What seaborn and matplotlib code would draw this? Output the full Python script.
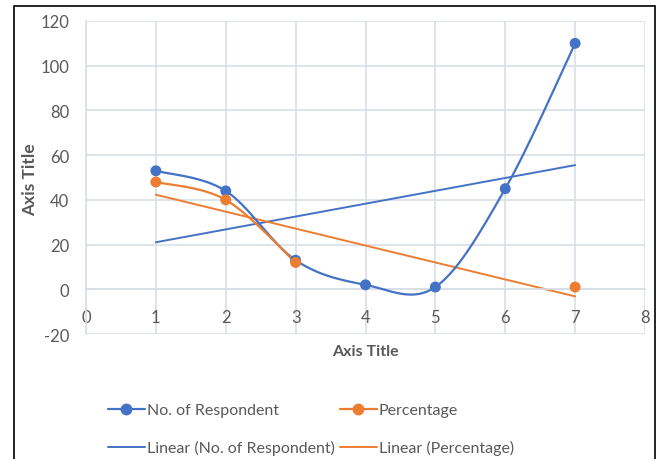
import numpy as np
import pandas as pd
import matplotlib
matplotlib.use("Agg")
import matplotlib.pyplot as plt
from matplotlib.lines import Line2D
from matplotlib.patches import Rectangle
import seaborn as sns

# ---- data ----
x_resp = [1, 2, 3, 4, 5, 6, 7]
respondents = [53, 44, 13, 2, 1, 45, 110]
x_pct = [1, 2, 3, 7]
percentage = [48, 40, 12, 1]
pct_segments = [[0, 1, 2], [3]]  # index groups of contiguous (non-gap) points
x_ticks = [0, 1, 2, 3, 4, 5, 6, 7, 8]
y_ticks = [-20, 0, 20, 40, 60, 80, 100, 120]
labels = ["No. of Respondent", "Percentage",
          "Linear (No. of Respondent)", "Linear (Percentage)"]

BLUE = "#4472C4"
ORANGE = "#ED7D31"
GRID = "#D9DEE6"
TEXT = "#595959"


def smooth(xs, ys, n=40):
    """Excel-style smoothed line (Catmull-Rom cubic Bezier)."""
    xs = np.asarray(xs, float)
    ys = np.asarray(ys, float)
    if len(xs) < 2:
        return xs, ys
    P = np.column_stack([xs, ys])
    out = []
    t = np.linspace(0, 1, n)[:, None]
    for i in range(len(P) - 1):
        p0 = P[i - 1] if i > 0 else P[i]
        p1 = P[i]
        p2 = P[i + 1]
        p3 = P[i + 2] if i + 2 < len(P) else P[i + 1]
        c1 = p1 + (p2 - p0) / 6.0
        c2 = p2 - (p3 - p1) / 6.0
        seg = ((1 - t) ** 3) * p1 + 3 * ((1 - t) ** 2) * t * c1 + 3 * (1 - t) * t ** 2 * c2 + t ** 3 * p2
        out.append(seg if i == 0 else seg[1:])
    arr = np.vstack(out)
    return arr[:, 0], arr[:, 1]


sns.set_theme(style="white")
plt.rcParams["font.family"] = ["Lato", "DejaVu Sans"]

fig = plt.figure(figsize=(6.6, 4.6), dpi=100)
ax = fig.add_axes([86 / 660, 1 - 335 / 460, (645 - 86) / 660, (335 - 22) / 460])

# smoothed series lines
sx, sy = smooth(x_resp, respondents)
sns.lineplot(x=sx, y=sy, sort=False, color=BLUE, lw=1.6, ax=ax, zorder=3)
for seg in pct_segments:
    xs = [x_pct[i] for i in seg]
    ys = [percentage[i] for i in seg]
    if len(xs) > 1:
        px, py = smooth(xs, ys)
        sns.lineplot(x=px, y=py, sort=False, color=ORANGE, lw=1.6, ax=ax, zorder=3)

# markers
sns.scatterplot(x=x_resp, y=respondents, color=BLUE, s=62, edgecolor="none", ax=ax, zorder=4)
sns.scatterplot(x=x_pct, y=percentage, color=ORANGE, s=62, edgecolor="none", ax=ax, zorder=5)

# linear trendlines
sns.regplot(x=np.array(x_resp, float), y=np.array(respondents, float), scatter=False, ci=None,
            truncate=True, color=BLUE, line_kws=dict(lw=1.4, zorder=2), ax=ax)
sns.regplot(x=np.array(x_pct, float), y=np.array(percentage, float), scatter=False, ci=None,
            truncate=True, color=ORANGE, line_kws=dict(lw=1.4, zorder=2), ax=ax)

ax.set_xlim(0, 8)
ax.set_ylim(-20, 120)
ax.set_xticks(x_ticks)
ax.set_yticks(y_ticks)
ax.set_xticklabels([str(v) for v in x_ticks])
ax.set_yticklabels([str(v) for v in y_ticks])
ax.grid(True, color=GRID, lw=1.2)
ax.set_axisbelow(True)
for s in ["top", "right"]:
    ax.spines[s].set_visible(False)
ax.spines["left"].set_color(GRID)
ax.spines["left"].set_linewidth(1.2)
ax.spines["bottom"].set_position(("data", 0))
ax.spines["bottom"].set_color(GRID)
ax.spines["bottom"].set_linewidth(1.2)
ax.tick_params(axis="both", length=0, labelsize=12, labelcolor=TEXT)
ax.tick_params(axis="x", pad=14.5)
ax.tick_params(axis="y", pad=12)

ax.set_xlabel("")
ax.set_ylabel("")
fig.text(365 / 660, 1 - 352 / 460, "Axis Title", ha="center", va="center",
         fontsize=11.5, fontweight="bold", color=TEXT)
fig.text(30 / 660, 1 - 180 / 460, "Axis Title", ha="center", va="center", rotation=90,
         fontsize=12.5, fontweight="bold", color=TEXT)

# legend
h_resp = Line2D([], [], color=BLUE, lw=1.6, marker="o", markersize=7.5)
h_pct = Line2D([], [], color=ORANGE, lw=1.6, marker="o", markersize=7.5)
h_lr = Line2D([], [], color=BLUE, lw=1.4)
h_lp = Line2D([], [], color=ORANGE, lw=1.4)
leg = fig.legend([h_resp, h_lr, h_pct, h_lp],
                 [labels[0], labels[2], labels[1], labels[3]],
                 ncol=2, loc="upper left", bbox_to_anchor=(108 / 660, 1 - 404 / 460),
                 frameon=False, fontsize=11.5, handlelength=2.3, handletextpad=0.15,
                 columnspacing=0.3, labelspacing=1.45, borderpad=0, borderaxespad=0)
for t in leg.get_texts():
    t.set_color(TEXT)

# outer border
fig.patches.append(Rectangle((14 / 660, -0.02), (655 - 14) / 660, 1 - 7 / 460 + 0.02,
                             transform=fig.transFigure, fill=False, edgecolor="black",
                             lw=1.2, zorder=10))

fig.savefig("out.png", dpi=100)
